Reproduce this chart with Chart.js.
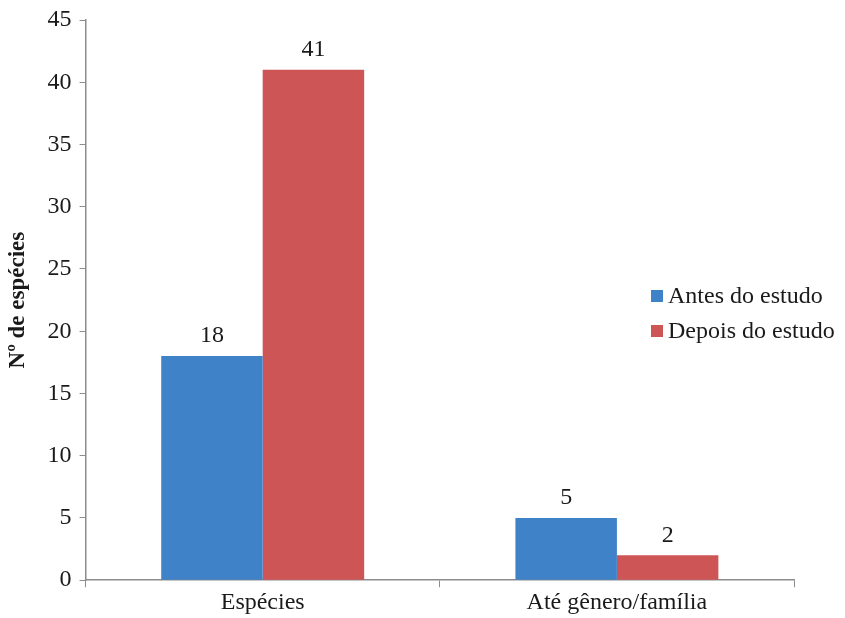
<!DOCTYPE html>
<html>
<head>
<meta charset="utf-8">
<script src="https://cdn.jsdelivr.net/npm/chart.js@4.4.0/dist/chart.umd.min.js"></script>
<style>
  html, body { margin: 0; padding: 0; background: #fff; }
  #wrap { width: 845px; height: 618px; }
</style>
</head>
<body>
<div id="wrap"><canvas id="chart"></canvas></div>
<script>
// data
const categories = ['Espécies', 'Até gênero/família'];
const antes = [18, 5];
const depois = [41, 2];
const seriesNames = ['Antes do estudo', 'Depois do estudo'];
const yTitle = 'Nº de espécies';

const serif = '"Liberation Serif", "Times New Roman", serif';
const axisGray = '#8c8c8c';

// numbers above bars
const barLabels = {
  id: 'barLabels',
  afterDatasetsDraw(chart) {
    const ctx = chart.ctx;
    ctx.save();
    ctx.font = '24px ' + serif;
    ctx.fillStyle = '#1a1a1a';
    ctx.textAlign = 'center';
    ctx.textBaseline = 'bottom';
    chart.data.datasets.forEach((ds, i) => {
      chart.getDatasetMeta(i).data.forEach((bar, j) => {
        ctx.fillText(ds.data[j], bar.x, bar.y - 8);
      });
    });
    ctx.restore();
  }
};

// legend floats over the right side of the plot
const floatLegend = {
  id: 'floatLegend',
  afterDraw(chart) {
    const ctx = chart.ctx;
    ctx.save();
    ctx.font = '24px ' + serif;
    ctx.textBaseline = 'middle';
    let y = 296;
    chart.data.datasets.forEach(ds => {
      ctx.fillStyle = ds.backgroundColor;
      ctx.fillRect(651, y - 6, 12, 12);
      ctx.fillStyle = '#1a1a1a';
      ctx.fillText(ds.label, 668, y + 1);
      y += 35;
    });
    ctx.restore();
  }
};

new Chart(document.getElementById('chart'), {
  type: 'bar',
  data: {
    labels: categories,
    datasets: [
      { label: seriesNames[0], data: antes, backgroundColor: '#3f82c7' },
      { label: seriesNames[1], data: depois, backgroundColor: '#cd5555' }
    ]
  },
  options: {
    responsive: true,
    maintainAspectRatio: false,
    animation: false,
    layout: { padding: { top: 4, right: 51, bottom: 0, left: 4 } },
    datasets: { bar: { barPercentage: 1, categoryPercentage: 0.573 } },
    plugins: { legend: { display: false }, tooltip: { enabled: false } },
    scales: {
      x: {
        grid: { drawOnChartArea: false, color: axisGray, tickLength: 7, offset: true },
        border: { color: axisGray, width: 1.5 },
        ticks: { color: '#1a1a1a', font: { family: serif, size: 24 }, padding: 1 }
      },
      y: {
        min: 0, max: 45,
        ticks: { stepSize: 5, color: '#1a1a1a', font: { family: serif, size: 24, lineHeight: 1 }, padding: 8 },
        grid: { drawOnChartArea: false, color: axisGray, tickLength: 6 },
        border: { color: axisGray, width: 1.5 },
        title: { display: true, text: yTitle, color: '#1a1a1a', font: { family: serif, size: 23, weight: 'bold' }, padding: { top: 0, bottom: 8 } }
      }
    }
  },
  plugins: [barLabels, floatLegend]
});
</script>
</body>
</html>
